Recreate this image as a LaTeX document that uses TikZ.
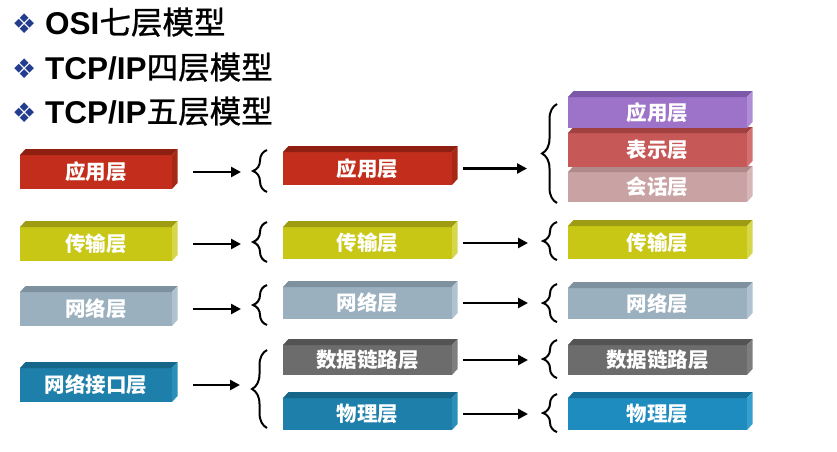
\documentclass[tikz,border=0pt]{standalone}
\usepackage{fontspec}
\setmainfont{Liberation Sans}
\newfontfamily\cjk{Noto Sans CJK SC}
\newfontfamily\cjkhead{Noto Sans CJK SC}[FakeBold=0.9]
\newfontfamily\symfont{DejaVu Sans}
\usetikzlibrary{arrows.meta,calc,decorations.pathreplacing}

% layer colours: front / top / side
\definecolor{redF}{HTML}{C22E1B}   \definecolor{redT}{HTML}{8F1F10}   \definecolor{redS}{HTML}{A82816}
\definecolor{yelF}{HTML}{C8C715}   \definecolor{yelT}{HTML}{9E9C12}   \definecolor{yelS}{HTML}{D6D64C}
\definecolor{gbF}{HTML}{9BB0BF}    \definecolor{gbT}{HTML}{7D919F}    \definecolor{gbS}{HTML}{B0C2CF}
\definecolor{tlF}{HTML}{1D7FAA}    \definecolor{tlT}{HTML}{16668A}    \definecolor{tlS}{HTML}{2A90BA}
\definecolor{tl2F}{HTML}{1E8CBF}   \definecolor{tl2T}{HTML}{156E99}   \definecolor{tl2S}{HTML}{35A0D0}
\definecolor{dgF}{HTML}{6C6C6C}    \definecolor{dgT}{HTML}{545454}    \definecolor{dgS}{HTML}{7E7E7E}
\definecolor{puF}{HTML}{9D73C9}    \definecolor{puT}{HTML}{7B58A8}    \definecolor{puS}{HTML}{B08ED6}
\definecolor{rsF}{HTML}{C75858}    \definecolor{rsT}{HTML}{A04040}    \definecolor{rsS}{HTML}{D47070}
\definecolor{pkF}{HTML}{C9A3A4}    \definecolor{pkT}{HTML}{B08A8B}    \definecolor{pkS}{HTML}{D6B6B7}
\definecolor{bullet}{HTML}{233D8E}

\tikzset{
  slabface/.style={rectangle, inner sep=0pt, outer sep=0pt, text=white,
    font=\cjk\bfseries\fontsize{20.5}{20.5}\selectfont},
  title/.style={anchor=base west, inner sep=0pt,
    font=\fontsize{31.5}{31.5}\selectfont},
  bul/.style={anchor=base west, inner sep=0pt, text=bullet,
    font=\symfont\fontsize{27}{27}\selectfont},
  arr/.style={line width=2.6pt, -{Triangle[length=10pt,width=10pt]}},
  curly/.style={line width=2pt, decorate,
    decoration={brace, amplitude=14pt}},
}

% 3-D slab: name, left, top, right, bottom (front face), front, top, side colours, label
\newcommand\slab[9]{%
  \node[slabface, fill=#6, minimum width={(#4-#2)*1pt}, minimum height={(#5-#3)*1pt}]
    (#1) at ({(#2+#4)/2},{(#3+#5)/2}) {#9};
  \fill[#7] (#1.north west) -- ++(5.5,-6) -- ($(#1.north east)+(5.5,-6)$) -- (#1.north east) -- cycle;
  \fill[#8] (#1.north east) -- ++(5.5,-6) -- ($(#1.south east)+(5.5,-6)$) -- (#1.south east) -- cycle;
}

\begin{document}
\begin{tikzpicture}[x=1pt,y=-1pt]
\useasboundingbox (0,0) rectangle (837,451);
\fill[white] (0,0) rectangle (837,451);

% headings
\node[bul] (b1) at (12,33) {❖};
\node[bul] (b2) at (12,78) {❖};
\node[bul] (b3) at (12,122) {❖};
\node[title] (h1) at (45,34) {\bfseries OSI{\cjkhead\mdseries 七层模型}};
\node[title] (h2) at (45,79) {\bfseries TCP/IP{\cjkhead\mdseries 四层模型}};
\node[title] (h3) at (45,123) {\bfseries TCP/IP{\cjkhead\mdseries 五层模型}};

% TCP/IP four-layer model
\slab{L1}{20}{155}{172}{189}{redF}{redT}{redS}{应用层}
\slab{L2}{20}{227}{172}{261}{yelF}{yelT}{yelS}{传输层}
\slab{L3}{20}{292}{172}{326}{gbF}{gbT}{gbS}{网络层}
\slab{L4}{20}{368}{172}{402}{tlF}{tlT}{tlS}{网络接口层}

% TCP/IP five-layer model
\slab{M1}{283}{152}{452}{185}{redF}{redT}{redS}{应用层}
\slab{M2}{283}{227}{452}{259}{yelF}{yelT}{yelS}{传输层}
\slab{M3}{283}{287}{452}{319}{gbF}{gbT}{gbS}{网络层}
\slab{M4}{283}{345}{452}{375}{dgF}{dgT}{dgS}{数据链路层}
\slab{M5}{283}{398}{452}{430}{tlF}{tlT}{tlS}{物理层}

% OSI seven-layer model
\slab{R7}{568}{172}{747}{202}{pkF}{pkT}{pkS}{会话层}
\slab{R6}{568}{133}{747}{167}{rsF}{rsT}{rsS}{表示层}
\slab{R5}{568}{97}{747}{128}{puF}{puT}{puS}{应用层}
\slab{R4}{568}{226}{747}{259}{yelF}{yelT}{yelS}{传输层}
\slab{R3}{568}{288}{747}{319}{gbF}{gbT}{gbS}{网络层}
\slab{R2}{568}{345}{747}{375}{dgF}{dgT}{dgS}{数据链路层}
\slab{R1}{568}{398}{747}{430}{tl2F}{tl2T}{tl2S}{物理层}

% braces in front of the middle column (tips named)
\draw[curly] (267,192) -- (267,150);  \coordinate (k1) at (253,171);
\draw[curly] (267,262) -- (267,222);  \coordinate (k2) at (253,242);
\draw[curly] (267,325) -- (267,285);  \coordinate (k3) at (253,305);
\draw[curly, decoration={amplitude=15pt}] (267,428) -- (267,350);  \coordinate (k4) at (252,389);

% braces in front of the right column
\draw[curly, decoration={amplitude=15pt}] (557,203) -- (557,104);  \coordinate (j1) at (542,153);
\draw[curly] (557,260) -- (557,222);  \coordinate (j2) at (543,241);
\draw[curly] (557,322) -- (557,284);  \coordinate (j3) at (543,303);
\draw[curly] (557,378) -- (557,340);  \coordinate (j4) at (543,359);
\draw[curly] (557,432) -- (557,394);  \coordinate (j5) at (543,413);

% arrows: four-layer -> five-layer
\draw[arr, shorten <=21pt, shorten >=12pt] (L1.east) -- (L1.east -| k1);
\draw[arr, shorten <=21pt, shorten >=12pt] (L2.east) -- (L2.east -| k2);
\draw[arr, shorten <=21pt, shorten >=12pt] (L3.east) -- (L3.east -| k3);
\draw[arr, shorten <=21pt, shorten >=12pt] (L4.east) -- (L4.east -| k4);

% arrows: five-layer -> seven-layer
\draw[arr, shorten <=11pt, shorten >=15pt] (M1.east) -- (M1.east -| j1);
\draw[arr, shorten <=11pt, shorten >=15pt] (M2.east) -- (M2.east -| j2);
\draw[arr, shorten <=11pt, shorten >=15pt] (M3.east) -- (M3.east -| j3);
\draw[arr, shorten <=11pt, shorten >=15pt] (M4.east) -- (M4.east -| j4);
\draw[arr, shorten <=11pt, shorten >=15pt] (M5.east) -- (M5.east -| j5);
\end{tikzpicture}
\end{document}
